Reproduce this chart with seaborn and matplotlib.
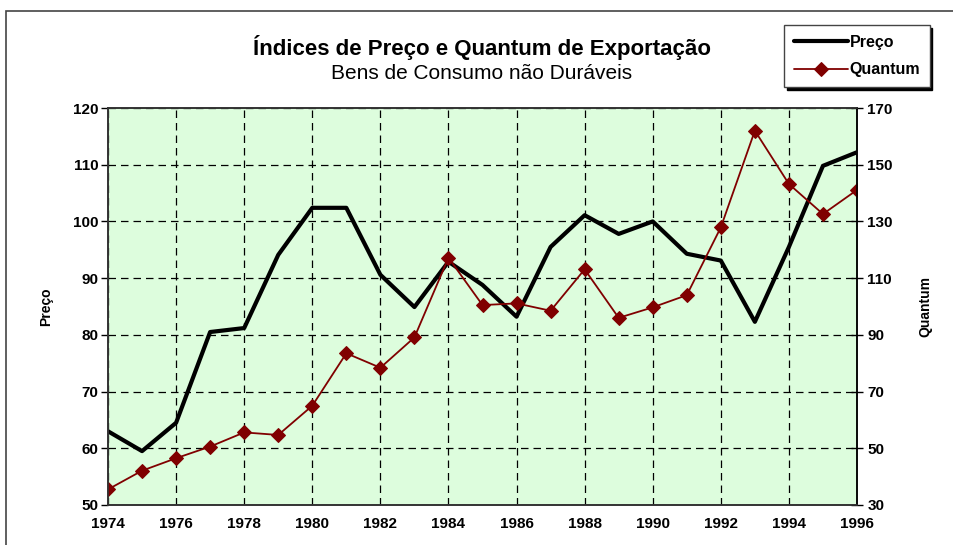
import seaborn as sns
import pandas as pd
import matplotlib.pyplot as plt
from matplotlib.patches import Rectangle

years = list(range(1974, 1997))
preco = [63.0, 59.5, 64.5, 80.5, 81.2, 94.1, 102.4, 102.4, 90.6, 84.9, 92.9, 88.8,
         83.2, 95.5, 101.1, 97.8, 100.0, 94.3, 93.1, 82.3, 95.5, 109.8, 112.2]
quantum = [35.5, 42.1, 46.5, 50.6, 55.6, 54.7, 65.0, 83.5, 78.4, 89.1, 117.2, 100.5,
           101.1, 98.5, 113.1, 96.0, 99.7, 104.0, 127.9, 162.0, 143.2, 132.6, 141.1]

sns.set_style("white")
plt.rcParams['font.family'] = ['Liberation Sans', 'DejaVu Sans']
plt.rcParams.update({"text.color": "black", "axes.labelcolor": "black",
                     "xtick.color": "black", "ytick.color": "black"})

data = pd.DataFrame({"ano": years, "preco": preco, "quantum": quantum})

fig = plt.figure(figsize=(9.54, 5.45), dpi=100)
ax = fig.add_axes([108 / 954, 40 / 545, 749 / 954, 397 / 545])
ax.set_facecolor("#DDFDDD")
ax2 = ax.twinx()

sns.lineplot(data=data, x="ano", y="preco", ax=ax, color="black", lw=3, label="Preço", legend=False)
sns.lineplot(data=data, x="ano", y="quantum", ax=ax2, color="#800000", lw=1.3, marker="D",
             markersize=7, markeredgecolor="#800000", label="Quantum", legend=False)

ax.set_xlim(1974, 1996)
ax.set_ylim(50, 120)
ax2.set_ylim(30, 170)
ax.set_xticks(range(1974, 1997, 2))
ax.set_yticks(range(50, 121, 10))
ax2.set_yticks(range(30, 171, 20))

ax.grid(True, color="black", linestyle=(0, (6, 4)), lw=0.9)
ax2.grid(False)

ax.tick_params(axis="both", direction="out", length=5, width=1, labelsize=11, pad=4)
ax.tick_params(axis="y", pad=2)
ax2.tick_params(axis="y", direction="inout", length=9, width=1, labelsize=11, pad=3)
for lab in ax.get_xticklabels() + ax.get_yticklabels() + ax2.get_yticklabels():
    lab.set_fontweight("bold")

ax.set_xlabel("")
ax.set_ylabel("Preço", fontsize=10, fontweight="bold", labelpad=14)
ax2.set_ylabel("Quantum", fontsize=10, fontweight="bold", labelpad=18)

for a in (ax, ax2):
    for s in a.spines.values():
        s.set_color("#333333")
        s.set_linewidth(1.2)
ax2.spines["right"].set_color("black")

fig.text(0.505, 0.913, "Índices de Preço e Quantum de Exportação", ha="center", va="center",
         fontsize=16, fontweight="bold")
fig.text(0.505, 0.866, "Bens de Consumo não Duráveis", ha="center", va="center", fontsize=15)

# outer frame
fig.patches.append(Rectangle((6 / 954, -0.1), 1.2, (545 - 11) / 545 + 0.1, transform=fig.transFigure,
                             fill=False, edgecolor="#444444", lw=1.2))

h1, l1 = ax.get_legend_handles_labels()
h2, l2 = ax2.get_legend_handles_labels()
leg = fig.legend(h1 + h2, l1 + l2, loc="upper left", bbox_to_anchor=(784 / 954, 1 - 25 / 545),
                 bbox_transform=fig.transFigure, frameon=True, fancybox=False,
                 shadow={"color": "black", "alpha": 1}, handlelength=3.4, borderpad=0.6,
                 labelspacing=0.8, handletextpad=0.1, borderaxespad=0,
                 prop={"weight": "bold", "size": 11.5})
leg.get_frame().set_edgecolor("#444444")
leg.get_frame().set_linewidth(1)

fig.savefig("out.png", dpi=100)
